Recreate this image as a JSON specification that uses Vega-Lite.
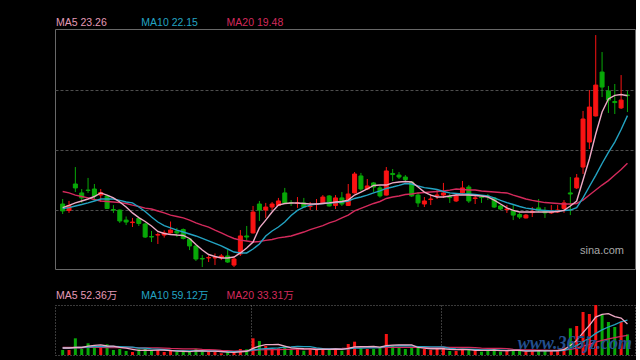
{
"$schema": "https://vega.github.io/schema/vega-lite/v6.json",
"background": "#000000",
"padding": {"left": 54, "top": 17, "right": 0, "bottom": 5},
"config": {"view": {"stroke": null}, "font": "Liberation Sans, Noto Sans CJK SC, sans-serif"},
"datasets": {
"hdr1": [{"k":0,"t":"MA5 23.26"},{"k":1,"t":"MA10 22.15"},{"k":2,"t":"MA20 19.48"}],
"hdr2": [{"k":0,"t":"MA5 52.36万"},{"k":1,"t":"MA10 59.12万"},{"k":2,"t":"MA20 33.31万"}],
"k": [
{"i":0,"o":17.20,"c":16.81,"h":17.48,"l":16.64,"v":8.45,"m5":17.00,"m10":16.95,"m20":17.90,"vm5":11.8,"vm10":11.8,"vm20":12.7},
{"i":1,"o":16.84,"c":17.12,"h":17.37,"l":16.70,"v":8.45,"m5":17.12,"m10":17.00,"m20":17.82,"vm5":11.8,"vm10":11.8,"vm20":12.7},
{"i":2,"o":18.32,"c":18.10,"h":19.27,"l":17.87,"v":28.2,"m5":17.26,"m10":17.09,"m20":17.70,"vm5":12.7,"vm10":12.7,"vm20":12.7},
{"i":3,"o":17.82,"c":17.54,"h":18.04,"l":17.26,"v":10.1,"m5":17.37,"m10":17.17,"m20":17.62,"vm5":12.7,"vm10":12.7,"vm20":12.7},
{"i":4,"o":17.98,"c":17.96,"h":18.66,"l":17.82,"v":19.8,"m5":17.48,"m10":17.26,"m20":17.54,"vm5":15.0,"vm10":13.5,"vm20":12.8},
{"i":5,"o":18.04,"c":17.65,"h":18.32,"l":17.48,"v":14.0,"m5":17.62,"m10":17.37,"m20":17.45,"vm5":16.1,"vm10":14.4,"vm20":12.8},
{"i":6,"o":17.70,"c":17.84,"h":18.04,"l":17.31,"v":14.0,"m5":17.82,"m10":17.48,"m20":17.37,"vm5":17.2,"vm10":14.4,"vm20":12.8},
{"i":7,"o":17.65,"c":16.95,"h":17.70,"l":16.92,"v":18.1,"m5":17.70,"m10":17.48,"m20":17.34,"vm5":15.2,"vm10":14.4,"vm20":12.7},
{"i":8,"o":16.89,"c":16.86,"h":17.14,"l":16.70,"v":8.45,"m5":17.54,"m10":17.48,"m20":17.31,"vm5":14.9,"vm10":14.4,"vm20":12.5},
{"i":9,"o":16.86,"c":16.25,"h":16.89,"l":16.14,"v":10.1,"m5":17.31,"m10":17.40,"m20":17.28,"vm5":13.0,"vm10":14.0,"vm20":12.3},
{"i":10,"o":16.30,"c":16.19,"h":16.50,"l":16.02,"v":6.8,"m5":17.03,"m10":17.31,"m20":17.23,"vm5":11.5,"vm10":13.8,"vm20":12.8},
{"i":11,"o":16.16,"c":16.19,"h":16.42,"l":15.91,"v":5.1,"m5":16.70,"m10":17.26,"m20":17.14,"vm5":9.6,"vm10":13.4,"vm20":12.7},
{"i":12,"o":16.39,"c":16.11,"h":16.42,"l":15.97,"v":9.6,"m5":16.44,"m10":17.03,"m20":17.06,"vm5":7.9,"vm10":11.6,"vm20":12.2},
{"i":13,"o":16.08,"c":15.35,"h":16.14,"l":15.30,"v":10.1,"m5":16.22,"m10":16.78,"m20":16.97,"vm5":8.3,"vm10":11.6,"vm20":12.2},
{"i":14,"o":15.38,"c":15.35,"h":15.69,"l":15.07,"v":7.3,"m5":15.97,"m10":16.47,"m20":16.92,"vm5":7.8,"vm10":10.4,"vm20":12.0},
{"i":15,"o":15.46,"c":15.49,"h":15.60,"l":14.96,"v":8.5,"m5":15.66,"m10":16.19,"m20":16.81,"vm5":8.1,"vm10":9.8,"vm20":12.1},
{"i":16,"o":15.46,"c":15.58,"h":15.72,"l":15.32,"v":5.1,"m5":15.55,"m10":15.99,"m20":16.70,"vm5":8.1,"vm10":8.9,"vm20":11.7},
{"i":17,"o":15.58,"c":15.74,"h":16.22,"l":15.55,"v":6.8,"m5":15.49,"m10":15.86,"m20":16.58,"vm5":7.6,"vm10":7.8,"vm20":11.1},
{"i":18,"o":15.69,"c":15.58,"h":15.86,"l":15.35,"v":5.6,"m5":15.46,"m10":15.74,"m20":16.50,"vm5":6.6,"vm10":7.4,"vm20":10.9},
{"i":19,"o":15.77,"c":15.27,"h":15.83,"l":15.21,"v":5.6,"m5":15.44,"m10":15.63,"m20":16.42,"vm5":6.3,"vm10":7.0,"vm20":10.5},
{"i":20,"o":15.24,"c":14.85,"h":15.27,"l":14.62,"v":5.6,"m5":15.27,"m10":15.52,"m20":16.30,"vm5":5.7,"vm10":6.9,"vm20":10.3},
{"i":21,"o":14.85,"c":14.12,"h":14.87,"l":14.01,"v":10.1,"m5":14.93,"m10":15.41,"m20":16.14,"vm5":6.8,"vm10":7.4,"vm20":10.5},
{"i":22,"o":14.15,"c":14.12,"h":14.34,"l":13.67,"v":6.8,"m5":14.62,"m10":15.27,"m20":16.02,"vm5":6.8,"vm10":7.2,"vm20":9.4},
{"i":23,"o":14.18,"c":14.20,"h":14.32,"l":13.95,"v":5.1,"m5":14.37,"m10":15.13,"m20":15.91,"vm5":6.6,"vm10":6.6,"vm20":9.1},
{"i":24,"o":14.18,"c":14.20,"h":14.43,"l":13.78,"v":5.1,"m5":14.26,"m10":14.99,"m20":15.74,"vm5":6.6,"vm10":6.4,"vm20":8.5},
{"i":25,"o":14.20,"c":14.29,"h":14.40,"l":14.06,"v":2.9,"m5":14.18,"m10":14.85,"m20":15.58,"vm5":5.9,"vm10":5.8,"vm20":7.8},
{"i":26,"o":14.29,"c":13.95,"h":14.62,"l":13.90,"v":5.1,"m5":14.18,"m10":14.68,"m20":15.41,"vm5":4.9,"vm10":5.8,"vm20":7.4},
{"i":27,"o":13.78,"c":14.12,"h":14.23,"l":13.67,"v":3.9,"m5":14.23,"m10":14.51,"m20":15.27,"vm5":4.4,"vm10":5.6,"vm20":6.7},
{"i":28,"o":14.40,"c":15.41,"h":15.74,"l":14.29,"v":10.1,"m5":14.46,"m10":14.46,"m20":15.18,"vm5":5.4,"vm10":6.0,"vm20":6.8},
{"i":29,"o":15.41,"c":15.35,"h":15.97,"l":15.13,"v":9.6,"m5":14.74,"m10":14.46,"m20":15.13,"vm5":6.3,"vm10":6.4,"vm20":6.8},
{"i":30,"o":15.58,"c":16.75,"h":17.09,"l":15.55,"v":28.2,"m5":15.07,"m10":14.68,"m20":15.07,"vm5":11.3,"vm10":8.6,"vm20":7.8},
{"i":31,"o":17.20,"c":16.86,"h":17.37,"l":16.25,"v":23.7,"m5":15.86,"m10":14.96,"m20":15.10,"vm5":15.0,"vm10":10.0,"vm20":8.7},
{"i":32,"o":16.86,"c":17.03,"h":17.26,"l":16.42,"v":15.2,"m5":16.30,"m10":15.41,"m20":15.16,"vm5":17.4,"vm10":10.9,"vm20":9.0},
{"i":33,"o":17.03,"c":17.20,"h":17.31,"l":16.86,"v":10.1,"m5":16.75,"m10":15.69,"m20":15.21,"vm5":17.4,"vm10":11.4,"vm20":9.0},
{"i":34,"o":17.12,"c":17.37,"h":17.54,"l":17.09,"v":11.3,"m5":17.14,"m10":15.91,"m20":15.30,"vm5":17.7,"vm10":12.0,"vm20":9.2},
{"i":35,"o":17.82,"c":17.26,"h":18.10,"l":17.20,"v":15.2,"m5":17.23,"m10":16.19,"m20":15.35,"vm5":15.0,"vm10":13.2,"vm20":9.5},
{"i":36,"o":17.28,"c":17.26,"h":17.42,"l":17.09,"v":8.5,"m5":17.26,"m10":16.56,"m20":15.41,"vm5":12.0,"vm10":13.5,"vm20":9.6},
{"i":37,"o":17.23,"c":17.26,"h":17.59,"l":16.98,"v":11.3,"m5":17.26,"m10":16.84,"m20":15.52,"vm5":11.3,"vm10":14.4,"vm20":10.0},
{"i":38,"o":17.26,"c":17.03,"h":17.54,"l":16.98,"v":7.3,"m5":17.23,"m10":17.03,"m20":15.63,"vm5":10.6,"vm10":14.0,"vm20":10.0},
{"i":39,"o":17.06,"c":17.09,"h":17.31,"l":16.86,"v":9.6,"m5":17.20,"m10":17.14,"m20":15.77,"vm5":10.3,"vm10":14.0,"vm20":10.2},
{"i":40,"o":17.17,"c":17.20,"h":17.48,"l":16.86,"v":9.6,"m5":17.20,"m10":17.20,"m20":15.88,"vm5":9.3,"vm10":12.2,"vm20":10.4},
{"i":41,"o":17.26,"c":17.59,"h":17.70,"l":17.23,"v":11.3,"m5":17.23,"m10":17.23,"m20":15.99,"vm5":9.8,"vm10":10.9,"vm20":10.5},
{"i":42,"o":17.65,"c":17.09,"h":17.70,"l":17.06,"v":9.6,"m5":17.26,"m10":17.26,"m20":16.14,"vm5":9.5,"vm10":10.4,"vm20":10.6},
{"i":43,"o":17.12,"c":17.54,"h":17.70,"l":16.92,"v":10.1,"m5":17.31,"m10":17.28,"m20":16.25,"vm5":10.1,"vm10":10.4,"vm20":10.9},
{"i":44,"o":17.54,"c":17.20,"h":17.87,"l":17.09,"v":7.3,"m5":17.34,"m10":17.31,"m20":16.42,"vm5":9.6,"vm10":10.0,"vm20":11.0},
{"i":45,"o":17.12,"c":17.76,"h":18.32,"l":17.09,"v":18.6,"m5":17.42,"m10":17.37,"m20":16.58,"vm5":11.3,"vm10":10.3,"vm20":11.7},
{"i":46,"o":17.82,"c":18.88,"h":18.99,"l":17.79,"v":22.5,"m5":17.70,"m10":17.51,"m20":16.81,"vm5":13.7,"vm10":11.7,"vm20":12.7},
{"i":47,"o":18.77,"c":18.04,"h":18.94,"l":17.93,"v":11.3,"m5":17.87,"m10":17.59,"m20":16.95,"vm5":14.0,"vm10":11.7,"vm20":13.0},
{"i":48,"o":18.04,"c":18.21,"h":18.60,"l":17.98,"v":10.1,"m5":18.04,"m10":17.70,"m20":17.09,"vm5":14.0,"vm10":12.1,"vm20":13.0},
{"i":49,"o":18.38,"c":18.15,"h":18.43,"l":17.87,"v":10.1,"m5":18.24,"m10":17.82,"m20":17.23,"vm5":14.5,"vm10":12.1,"vm20":13.0},
{"i":50,"o":18.10,"c":17.65,"h":18.21,"l":17.56,"v":12.3,"m5":18.26,"m10":17.93,"m20":17.34,"vm5":13.4,"vm10":12.3,"vm20":12.3},
{"i":51,"o":17.70,"c":19.05,"h":19.27,"l":17.68,"v":35.5,"m5":18.26,"m10":18.07,"m20":17.51,"vm5":15.9,"vm10":14.8,"vm20":12.8},
{"i":52,"o":18.91,"c":18.85,"h":19.16,"l":18.49,"v":15.2,"m5":18.38,"m10":18.15,"m20":17.59,"vm5":16.7,"vm10":15.4,"vm20":12.8},
{"i":53,"o":18.82,"c":18.71,"h":18.99,"l":18.60,"v":13.0,"m5":18.43,"m10":18.24,"m20":17.65,"vm5":17.2,"vm10":15.6,"vm20":13.0},
{"i":54,"o":18.71,"c":18.57,"h":18.82,"l":18.43,"v":10.1,"m5":18.46,"m10":18.35,"m20":17.73,"vm5":17.2,"vm10":15.9,"vm20":12.9},
{"i":55,"o":18.43,"c":17.65,"h":18.46,"l":17.59,"v":12.3,"m5":18.43,"m10":18.32,"m20":17.76,"vm5":17.2,"vm10":15.3,"vm20":12.8},
{"i":56,"o":17.70,"c":17.26,"h":17.87,"l":17.03,"v":12.3,"m5":18.15,"m10":18.21,"m20":17.82,"vm5":12.7,"vm10":14.3,"vm20":13.0},
{"i":57,"o":17.20,"c":17.37,"h":17.59,"l":17.03,"v":10.1,"m5":17.87,"m10":18.12,"m20":17.84,"vm5":11.7,"vm10":14.2,"vm20":13.0},
{"i":58,"o":17.45,"c":17.48,"h":17.76,"l":17.14,"v":8.5,"m5":17.70,"m10":18.07,"m20":17.87,"vm5":10.6,"vm10":13.9,"vm20":13.0},
{"i":59,"o":17.68,"c":17.70,"h":17.98,"l":17.48,"v":10.1,"m5":17.59,"m10":18.01,"m20":17.90,"vm5":10.6,"vm10":13.9,"vm20":13.0},
{"i":60,"o":17.70,"c":17.82,"h":18.38,"l":17.54,"v":12.3,"m5":17.59,"m10":17.90,"m20":17.93,"vm5":10.6,"vm10":13.9,"vm20":13.2},
{"i":61,"o":17.59,"c":17.56,"h":17.76,"l":17.26,"v":6.8,"m5":17.65,"m10":17.82,"m20":17.98,"vm5":9.6,"vm10":11.2,"vm20":13.0},
{"i":62,"o":17.37,"c":17.65,"h":17.76,"l":17.31,"v":6.8,"m5":17.70,"m10":17.79,"m20":18.04,"vm5":9.0,"vm10":10.3,"vm20":12.8},
{"i":63,"o":17.82,"c":18.10,"h":18.49,"l":17.76,"v":10.1,"m5":17.70,"m10":17.76,"m20":18.01,"vm5":9.3,"vm10":10.0,"vm20":12.8},
{"i":64,"o":18.15,"c":17.37,"h":18.26,"l":17.26,"v":9.6,"m5":17.70,"m10":17.76,"m20":17.98,"vm5":9.1,"vm10":9.9,"vm20":12.8},
{"i":65,"o":17.51,"c":17.54,"h":17.70,"l":17.20,"v":6.8,"m5":17.68,"m10":17.73,"m20":17.98,"vm5":7.9,"vm10":9.3,"vm20":12.3},
{"i":66,"o":17.59,"c":17.56,"h":17.70,"l":17.26,"v":5.6,"m5":17.65,"m10":17.70,"m20":17.93,"vm5":7.8,"vm10":8.7,"vm20":11.5},
{"i":67,"o":17.65,"c":17.62,"h":17.76,"l":17.42,"v":7.3,"m5":17.59,"m10":17.65,"m20":17.90,"vm5":7.9,"vm10":8.5,"vm20":11.3},
{"i":68,"o":17.54,"c":17.03,"h":17.56,"l":16.98,"v":11.3,"m5":17.42,"m10":17.54,"m20":17.87,"vm5":8.1,"vm10":8.7,"vm20":11.3},
{"i":69,"o":17.09,"c":16.92,"h":17.14,"l":16.86,"v":5.6,"m5":17.20,"m10":17.40,"m20":17.84,"vm5":7.3,"vm10":8.2,"vm20":11.1},
{"i":70,"o":16.89,"c":16.92,"h":17.14,"l":16.70,"v":6.8,"m5":16.98,"m10":17.28,"m20":17.82,"vm5":7.3,"vm10":7.6,"vm20":10.8},
{"i":71,"o":16.81,"c":16.58,"h":17.14,"l":16.30,"v":8.5,"m5":16.84,"m10":17.17,"m20":17.70,"vm5":7.9,"vm10":7.9,"vm20":9.5},
{"i":72,"o":16.61,"c":16.47,"h":16.70,"l":16.36,"v":6.8,"m5":16.75,"m10":17.06,"m20":17.59,"vm5":7.8,"vm10":7.9,"vm20":9.1},
{"i":73,"o":16.42,"c":16.58,"h":16.64,"l":16.39,"v":5.6,"m5":16.75,"m10":16.97,"m20":17.48,"vm5":6.6,"vm10":7.4,"vm20":8.6},
{"i":74,"o":16.72,"c":16.78,"h":17.03,"l":16.47,"v":7.3,"m5":16.75,"m10":16.92,"m20":17.40,"vm5":6.9,"vm10":7.1,"vm20":8.5},
{"i":75,"o":16.98,"c":16.86,"h":17.48,"l":16.75,"v":8.5,"m5":16.75,"m10":16.86,"m20":17.34,"vm5":7.3,"vm10":7.3,"vm20":8.3},
{"i":76,"o":16.81,"c":16.70,"h":17.03,"l":16.42,"v":6.8,"m5":16.75,"m10":16.84,"m20":17.28,"vm5":6.9,"vm10":7.4,"vm20":8.1},
{"i":77,"o":16.70,"c":16.75,"h":17.14,"l":16.64,"v":6.8,"m5":16.75,"m10":16.81,"m20":17.26,"vm5":6.9,"vm10":7.4,"vm20":7.9},
{"i":78,"o":16.75,"c":16.86,"h":17.14,"l":16.70,"v":8.5,"m5":16.78,"m10":16.81,"m20":17.23,"vm5":7.6,"vm10":7.1,"vm20":7.9},
{"i":79,"o":16.95,"c":17.26,"h":17.42,"l":16.70,"v":14.0,"m5":16.84,"m10":16.84,"m20":17.20,"vm5":9.0,"vm10":7.9,"vm20":8.1},
{"i":80,"o":17.82,"c":17.76,"h":18.71,"l":16.58,"v":45.1,"m5":17.09,"m10":16.86,"m20":17.20,"vm5":16.2,"vm10":11.7,"vm20":9.6},
{"i":81,"o":18.10,"c":18.66,"h":18.88,"l":18.04,"v":49.0,"m5":17.37,"m10":17.00,"m20":17.23,"vm5":24.7,"vm10":15.8,"vm20":11.8},
{"i":82,"o":19.27,"c":21.96,"h":22.41,"l":18.88,"v":72.7,"m5":18.54,"m10":17.54,"m20":17.42,"vm5":37.9,"vm10":22.4,"vm20":15.1},
{"i":83,"o":20.67,"c":22.63,"h":23.58,"l":20.28,"v":69.3,"m5":19.72,"m10":18.18,"m20":17.70,"vm5":50.0,"vm10":28.8,"vm20":18.1},
{"i":84,"o":22.13,"c":23.86,"h":26.66,"l":22.10,"v":84.5,"m5":21.12,"m10":18.80,"m20":17.98,"vm5":64.1,"vm10":36.5,"vm20":21.8},
{"i":85,"o":24.59,"c":23.75,"h":25.71,"l":23.19,"v":67.6,"m5":22.35,"m10":19.47,"m20":18.26,"vm5":68.6,"vm10":42.4,"vm20":24.8},
{"i":86,"o":23.53,"c":23.02,"h":23.81,"l":22.30,"v":55.8,"m5":23.08,"m10":20.09,"m20":18.51,"vm5":70.0,"vm10":47.3,"vm20":27.4},
{"i":87,"o":22.94,"c":22.88,"h":23.92,"l":22.24,"v":47.3,"m5":23.28,"m10":20.67,"m20":18.82,"vm5":64.9,"vm10":51.4,"vm20":29.4},
{"i":88,"o":22.58,"c":23.02,"h":24.42,"l":22.52,"v":56.3,"m5":23.33,"m10":21.37,"m20":19.13,"vm5":62.4,"vm10":56.2,"vm20":31.6},
{"i":89,"o":23.30,"c":23.28,"h":23.53,"l":22.35,"v":34.8,"m5":23.26,"m10":22.15,"m20":19.48,"vm5":52.36,"vm10":59.12,"vm20":33.31}
]
},
"spacing": 0,
"bounds": "flush",
"resolve": {"scale": {"x": "independent", "y": "independent"}},
"vconcat": [
{
"width": 580, "height": 12,
"data": {"name": "hdr1"},
"mark": {"type": "text", "align": "left", "baseline": "middle", "fontSize": 10.5},
"encoding": {
"x": {"field": "k", "type": "quantitative", "scale": {"domain": [-0.0117, 6.788], "nice": false, "zero": false}, "axis": null},
"text": {"field": "t"},
"color": {"condition": [{"test": "datum.k == 0", "value": "#e49ab6"}, {"test": "datum.k == 1", "value": "#23a3c2"}], "value": "#d42a5c"}
}
},
{
"width": 580, "height": 240,
"view": {"stroke": "#686868", "strokeWidth": 1},
"title": {"text": "sina.com", "orient": "bottom", "anchor": "end", "offset": -24, "dx": -11, "fontSize": 11, "fontWeight": "normal", "color": "#a8a8a8", "font": "Liberation Sans"},
"data": {"name": "k"},
"encoding": {
"x": {"field": "i", "type": "quantitative", "scale": {"domain": [-0.42, 89.40], "nice": false, "zero": false}, "axis": null}
},
"layer": [
{
"mark": {"type": "rule", "strokeWidth": 1},
"encoding": {
"y": {"field": "l", "type": "quantitative", "scale": {"domain": [13.56, 27.0], "nice": false, "zero": false},
"axis": {"values": [16.85, 20.21, 23.57], "grid": true, "gridColor": "#4e4e4e", "gridDash": [3, 2], "gridWidth": 1, "labels": false, "ticks": false, "domain": false, "title": null}},
"y2": {"field": "h"},
"color": {"condition": {"test": "datum.c >= datum.o", "value": "#f91313"}, "value": "#08a808"}
}
},
{
"mark": {"type": "bar", "size": 4, "strokeWidth": 1},
"encoding": {
"y": {"field": "o", "type": "quantitative"},
"y2": {"field": "c"},
"fill": {"condition": {"test": "datum.c >= datum.o", "value": "#f91313"}, "value": "#08a808"},
"stroke": {"condition": {"test": "datum.c >= datum.o", "value": "#f91313"}, "value": "#08a808"}
}
},
{"mark": {"type": "line", "strokeWidth": 1.4, "color": "#d42a5c"}, "encoding": {"y": {"field": "m20", "type": "quantitative"}}},
{"mark": {"type": "line", "strokeWidth": 1.4, "color": "#23a3c2"}, "encoding": {"y": {"field": "m10", "type": "quantitative"}}},
{"mark": {"type": "line", "strokeWidth": 1.4, "color": "#eeaac6"}, "encoding": {"y": {"field": "m5", "type": "quantitative"}}}
]
},
{
"width": 580, "height": 36,
"data": {"name": "hdr2"},
"mark": {"type": "text", "align": "left", "baseline": "middle", "fontSize": 10.5},
"encoding": {
"x": {"field": "k", "type": "quantitative", "scale": {"domain": [-0.0117, 6.788], "nice": false, "zero": false}, "axis": null},
"y": {"datum": 9.5, "type": "quantitative", "scale": {"domain": [0, 36], "nice": false, "zero": false}, "axis": null},
"text": {"field": "t"},
"color": {"condition": [{"test": "datum.k == 0", "value": "#e49ab6"}, {"test": "datum.k == 1", "value": "#23a3c2"}], "value": "#d42a5c"}
}
},
{
"width": 580, "height": 50,
"view": {"stroke": "#747474", "strokeWidth": 1, "strokeDash": [1, 2]},
"title": {"text": "www.365jz.com", "orient": "bottom", "anchor": "end", "baseline": "alphabetic", "offset": -6, "dx": -3, "font": "Liberation Serif", "fontSize": 18, "fontStyle": "italic", "fontWeight": "bold", "color": "#234f8e"},
"data": {"name": "k"},
"encoding": {
"x": {"field": "i", "type": "quantitative", "scale": {"domain": [-0.42, 89.40], "nice": false, "zero": false},
"axis": {"values": [29.6, 59.6], "grid": true, "gridColor": "#747474", "gridDash": [1, 2], "labels": false, "ticks": false, "domain": false, "title": null}}
},
"layer": [
{
"mark": {"type": "bar", "size": 3},
"encoding": {
"y": {"field": "v", "type": "quantitative", "scale": {"domain": [0, 84.5], "nice": false}, "axis": null},
"color": {"condition": {"test": "datum.c >= datum.o", "value": "#f91313"}, "value": "#08a808"}
}
},
{"mark": {"type": "line", "strokeWidth": 1.3, "color": "#d42a5c"}, "encoding": {"y": {"field": "vm20", "type": "quantitative"}}},
{"mark": {"type": "line", "strokeWidth": 1.3, "color": "#23a3c2"}, "encoding": {"y": {"field": "vm10", "type": "quantitative"}}},
{"mark": {"type": "line", "strokeWidth": 1.3, "color": "#eeaac6"}, "encoding": {"y": {"field": "vm5", "type": "quantitative"}}}
]
}
]
}
